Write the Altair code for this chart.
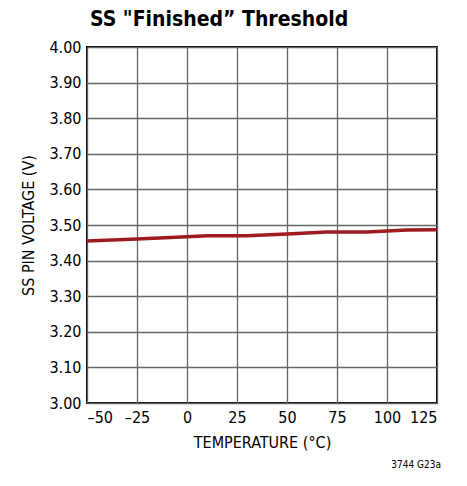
import altair as alt
import pandas as pd

temps = [-50, -25, 0, 10, 30, 50, 70, 90, 110, 125]
volts = [3.455, 3.461, 3.467, 3.470, 3.470, 3.475, 3.480, 3.480, 3.486, 3.487]
x_ticks = [-50, -25, 0, 25, 50, 75, 100, 125]
y_ticks = [3.0, 3.1, 3.2, 3.3, 3.4, 3.5, 3.6, 3.7, 3.8, 3.9, 4.0]

df = pd.DataFrame({"t": temps, "v": volts})
FONT = "DejaVu Sans Condensed, Roboto, sans-serif"

line = alt.Chart(df).mark_line(color="#9e1b20", strokeWidth=3.5).encode(
    x=alt.X("t:Q", scale=alt.Scale(domain=[-50, 125], nice=False),
            axis=alt.Axis(values=x_ticks, title="TEMPERATURE (°C)", format="d",
                          labelExpr="replace(datum.label, /[-−]/, '–')")),
    y=alt.Y("v:Q", scale=alt.Scale(domain=[3.0, 4.0], nice=False, zero=False),
            axis=alt.Axis(values=y_ticks, title="SS PIN VOLTAGE (V)", format=".2f")),
)

note = alt.Chart(pd.DataFrame({"txt": ["3744 G23a"]})).mark_text(
    align="right", baseline="middle", fontSize=10, font=FONT, color="#000"
).encode(x=alt.value(354), y=alt.value(418), text="txt:N")

chart = alt.layer(line, note).properties(
    width=350, height=356,
    title=alt.TitleParams("SS \"Finished\u201d Threshold", anchor="start", frame="group",
                          fontSize=21, font=FONT, fontWeight="bold", color="#000",
                          offset=9, dx=3),
    padding={"left": 79, "top": 39, "right": 20, "bottom": 70},
    autosize=alt.AutoSizeParams(type="none"),
).configure_view(stroke="#000", strokeWidth=2).configure_axis(
    grid=True, gridColor="#666", gridWidth=1.3, domain=False, ticks=False,
    labelFont=FONT, labelFontSize=16, labelColor="#000",
    titleFont=FONT, titleFontSize=16, titleColor="#000", titleFontWeight="normal",
).configure_axisY(titlePadding=12, labelPadding=6).configure_axisX(titlePadding=9, labelPadding=6)

chart.save("out.html", embed_options={"renderer": "svg", "actions": False})
